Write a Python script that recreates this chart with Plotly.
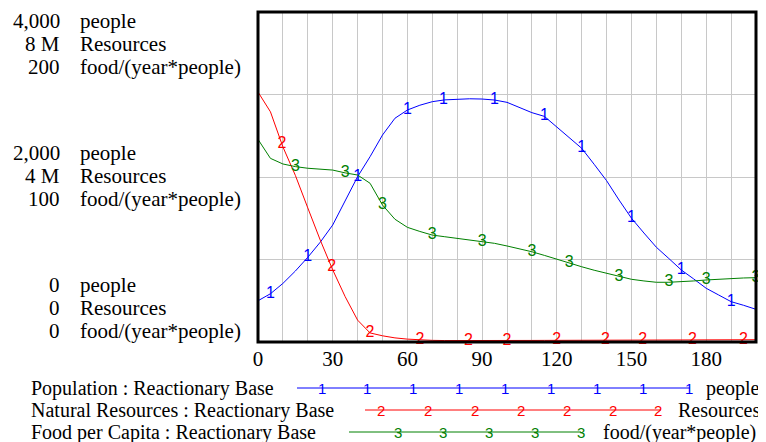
import numpy as np
import plotly.graph_objects as go

# ---------------- data ----------------
time = list(range(0, 205, 5))

population = [500, 585, 710, 860, 1027, 1210, 1418, 1720, 2004, 2246,
              2509, 2712, 2812, 2870, 2913, 2935, 2945, 2948, 2945, 2933,
              2905, 2845, 2780, 2735, 2606, 2476, 2348, 2154, 1955, 1721,
              1500, 1321, 1148, 1012, 873, 764, 651, 570, 489, 445, 396]

resources = [6.06e6, 5.58e6, 4.73e6, 4.04e6, 3.25e6, 2.47e6, 1.75e6, 1.10e6, 0.53e6, 0.22e6,
             0.15e6, 0.10e6, 0.07e6, 0.05e6, 0.04e6, 0.035e6, 0.033e6, 0.033e6, 0.034e6, 0.035e6,
             0.036e6, 0.037e6, 0.038e6, 0.039e6, 0.040e6, 0.041e6, 0.042e6, 0.043e6, 0.045e6, 0.047e6,
             0.049e6, 0.050e6, 0.051e6, 0.052e6, 0.053e6, 0.053e6, 0.054e6, 0.054e6, 0.055e6, 0.055e6, 0.055e6]

food = [122.8, 111.3, 107.9, 106.3, 105.3, 104.7, 104.2, 102.5, 101.2, 96.2,
        83.0, 74.4, 69.5, 67.0, 64.8, 63.8, 62.8, 61.8, 60.8, 59.8,
        58.2, 56.5, 54.7, 52.5, 50.1, 47.8, 45.6, 43.5, 41.6, 39.7,
        38.0, 37.0, 36.2, 36.2, 36.5, 37.0, 37.6, 38.1, 38.6, 38.8, 39.0]

# times at which the numbered line markers sit
marker_t_pop = [5, 20, 40, 60, 74.5, 95, 115, 130, 150, 170, 190]
marker_t_res = [9.6, 29.6, 45, 65, 84.5, 100, 120, 139.5, 154.5, 174.5, 195]
marker_t_food = [15, 35, 50, 70, 90, 110, 125, 145, 165, 180, 200]

x_ticks = [0, 30, 60, 90, 120, 150, 180]
axis_blocks = [
    ("4,000", "people", "8 M", "Resources", "200", "food/(year*people)"),
    ("2,000", "people", "4 M", "Resources", "100", "food/(year*people)"),
    ("0", "people", "0", "Resources", "0", "food/(year*people)"),
]
legend_names = ["Population : Reactionary Base",
                "Natural Resources : Reactionary Base",
                "Food per Capita : Reactionary Base"]
legend_units = ["people", "Resources", "food/(year*people)"]

BLUE, RED, GREEN = "#0000ff", "#ff0000", "#008000"
SERIF = "Liberation Serif"
SANS = "Liberation Sans"
FS = 21
LFS = 20
MS = 16

fig = go.Figure()

series = [
    (population, "y", BLUE, "1", marker_t_pop),
    (resources, "y2", RED, "2", marker_t_res),
    (food, "y3", GREEN, "3", marker_t_food),
]
for vals, ax, col, lab, mts in series:
    fig.add_trace(go.Scatter(x=time, y=vals, yaxis=ax, mode="lines",
                             line=dict(color=col, width=1), showlegend=False,
                             hoverinfo="skip"))
    my = np.interp(mts, time, vals)
    fig.add_trace(go.Scatter(x=mts, y=my, yaxis=ax, mode="text",
                             text=[lab] * len(mts), textposition="middle center",
                             textfont=dict(color=col, size=MS, family=SANS),
                             showlegend=False, hoverinfo="skip", cliponaxis=False))

# page offset (body margin) and plot area in figure pixels
OFF = 8
FW, FH = 766 - OFF, 442 - OFF
L, T, W, H = 250, 4, 498, 330
R = FW - L - W
B = FH - T - H


def px(xp):  # reference-screen x -> paper
    return (xp - OFF - L) / W


def py(yp):  # reference-screen y -> paper
    return (T + H - (yp - OFF)) / H


annotations = []
block_rows = [[21, 44, 67], [153, 176, 199], [285, 308, 331]]
for blk, rows in zip(axis_blocks, block_rows):
    for i in range(3):
        num, unit = blk[2 * i], blk[2 * i + 1]
        annotations.append(dict(x=px(62), y=py(rows[i]), xref="paper", yref="paper",
                                text=num, showarrow=False, xanchor="right", yanchor="middle",
                                font=dict(family=SERIF, size=FS, color="black")))
        annotations.append(dict(x=px(78), y=py(rows[i]), xref="paper", yref="paper",
                                text=unit, showarrow=False, xanchor="left", yanchor="middle",
                                font=dict(family=SERIF, size=FS, color="black")))

# legend
shapes = []
leg_rows = [388, 410, 432]
leg_lines = [(297, 690), (365, 661), (349, 581)]
leg_marks = [[322, 367, 413, 459, 505, 551, 597, 643, 689],
             [381, 428, 475, 521, 567, 613, 658],
             [398, 443, 489, 535, 581]]
leg_unit_x = [704, 676, 601]
cols = [BLUE, RED, GREEN]
labs = ["1", "2", "3"]
for i in range(3):
    yv = py(leg_rows[i])
    annotations.append(dict(x=px(29), y=yv, xref="paper", yref="paper", text=legend_names[i],
                            showarrow=False, xanchor="left", yanchor="middle",
                            font=dict(family=SERIF, size=LFS, color="black")))
    annotations.append(dict(x=px(leg_unit_x[i]), y=yv, xref="paper", yref="paper",
                            text=legend_units[i], showarrow=False, xanchor="left",
                            yanchor="middle", font=dict(family=SERIF, size=LFS, color="black")))
    x0, x1 = leg_lines[i]
    shapes.append(dict(type="line", xref="paper", yref="paper", x0=px(x0), x1=px(x1),
                       y0=yv, y1=yv, line=dict(color=cols[i], width=1)))
    for m in leg_marks[i]:
        annotations.append(dict(x=px(m), y=yv, xref="paper", yref="paper", text=labs[i],
                                showarrow=False, xanchor="center", yanchor="middle",
                                font=dict(family=SANS, size=15, color=cols[i])))

# frame
shapes.append(dict(type="rect", xref="paper", yref="paper", x0=0, x1=1, y0=0, y1=1,
                   line=dict(color="black", width=3), layer="above"))

GRID = "#c8c8c8"
fig.update_layout(
    width=FW, height=FH,
    margin=dict(l=L, r=R, t=T, b=B, autoexpand=False),
    paper_bgcolor="white", plot_bgcolor="white",
    showlegend=False,
    xaxis=dict(range=[0, 200], tickvals=x_ticks, ticks="", showgrid=True, gridcolor=GRID,
               gridwidth=1, zeroline=False, showline=False, ticklabelstandoff=2,
               tickfont=dict(family=SERIF, size=FS, color="black"),
               minor=dict(dtick=10, tick0=0, showgrid=True, gridcolor=GRID, gridwidth=1)),
    yaxis=dict(range=[0, 4000], dtick=1000, showticklabels=False, ticks="", showgrid=True,
               gridcolor=GRID, zeroline=False, showline=False),
    yaxis2=dict(range=[0, 8e6], overlaying="y", visible=False),
    yaxis3=dict(range=[0, 200], overlaying="y", visible=False),
    annotations=annotations,
    shapes=shapes,
)

fig.write_html("out.html")
